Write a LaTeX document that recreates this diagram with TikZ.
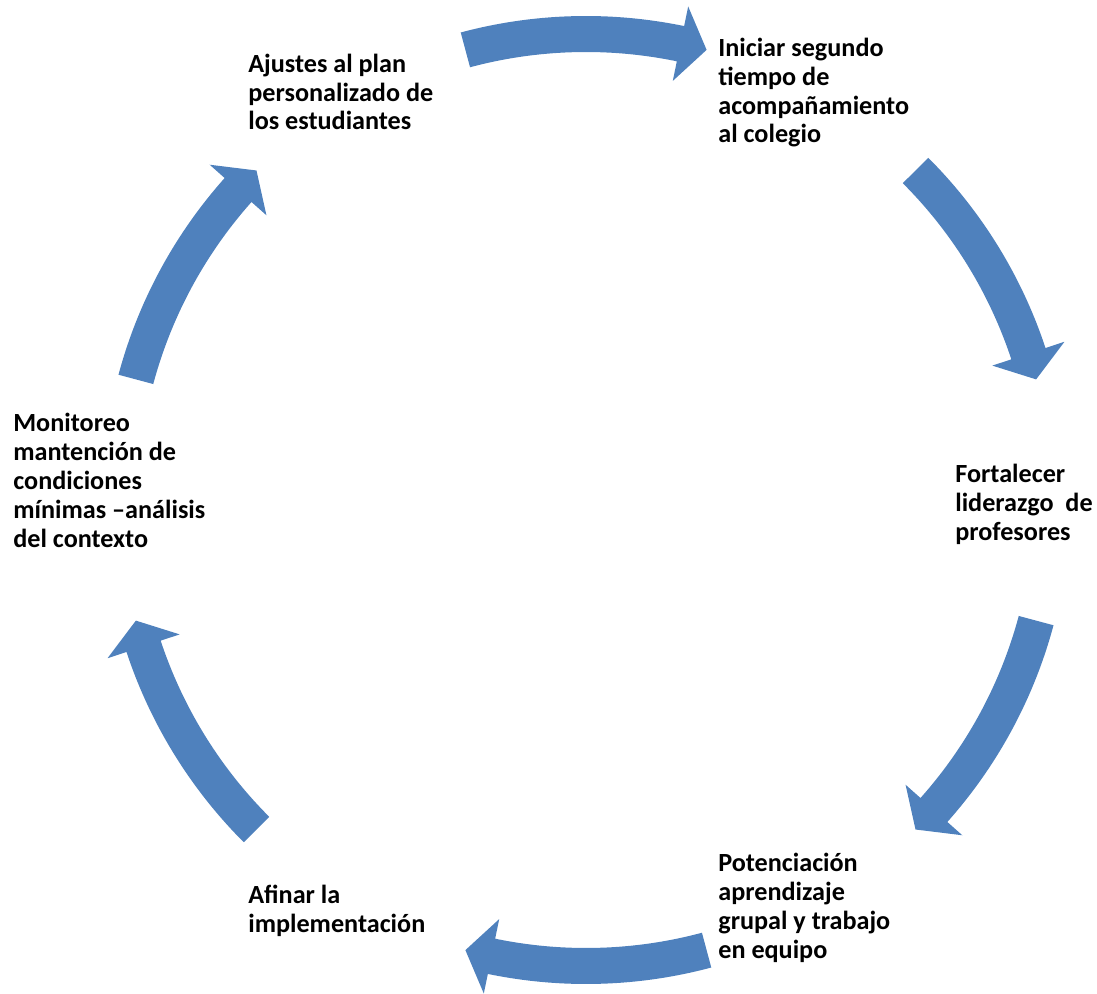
\documentclass[tikz,border=0pt]{standalone}
\usepackage{fontspec}
\setmainfont{Carlito}
\definecolor{arrowblue}{HTML}{4F81BD}
\tikzset{
	lbl/.style={anchor=base west, align=left, inner sep=0pt,
		font=\fontsize{14.9}{16.5}\selectfont\bfseries},
	blockarrow/.style={fill=arrowblue}
}
\begin{document}
\begin{tikzpicture}[]
\useasboundingbox (-11.72,-9.86) rectangle (10.22,10.0);
\coordinate(c) at(0,0);

\node[lbl](ajustes) at(-6.76,7.40) {Ajustes al plan\\personalizado de\\los estudiantes};
\node[lbl](iniciar) at(2.64,7.14) {Iniciar segundo\\tiempo de\\acompañamiento\\al colegio};
\node[lbl](fortalecer) at(7.38,-0.80) {Fortalecer\\liderazgo\ \ de\\profesores};
\node[lbl](potenciacion) at(2.64,-9.16) {Potenciación\\aprendizaje\\grupal y trabajo\\en equipo};
\node[lbl](afinar) at(-6.76,-8.64) {Afinar la\\implementación};
\node[lbl](monitoreo) at(-11.46,-0.94) {Monitoreo\\mantención de\\condiciones\\mínimas –análisis\\del contexto};

\foreach \a in {105,45,-15,-75,-135,165}{
	\fill[blockarrow] ([shift={(\a:9.68)}]c)
		arc[start angle=\a, end angle=\a-26.7, radius=9.68]
		-- ([shift={(\a-26.7:10.08)}]c)
		-- ([shift={(\a-30:9.32)}]c)
		-- ([shift={(\a-26.7:8.56)}]c)
		-- ([shift={(\a-26.7:8.96)}]c)
		arc[start angle=\a-26.7, end angle=\a, radius=8.96]
		-- cycle;
}
\end{tikzpicture}
\end{document}
